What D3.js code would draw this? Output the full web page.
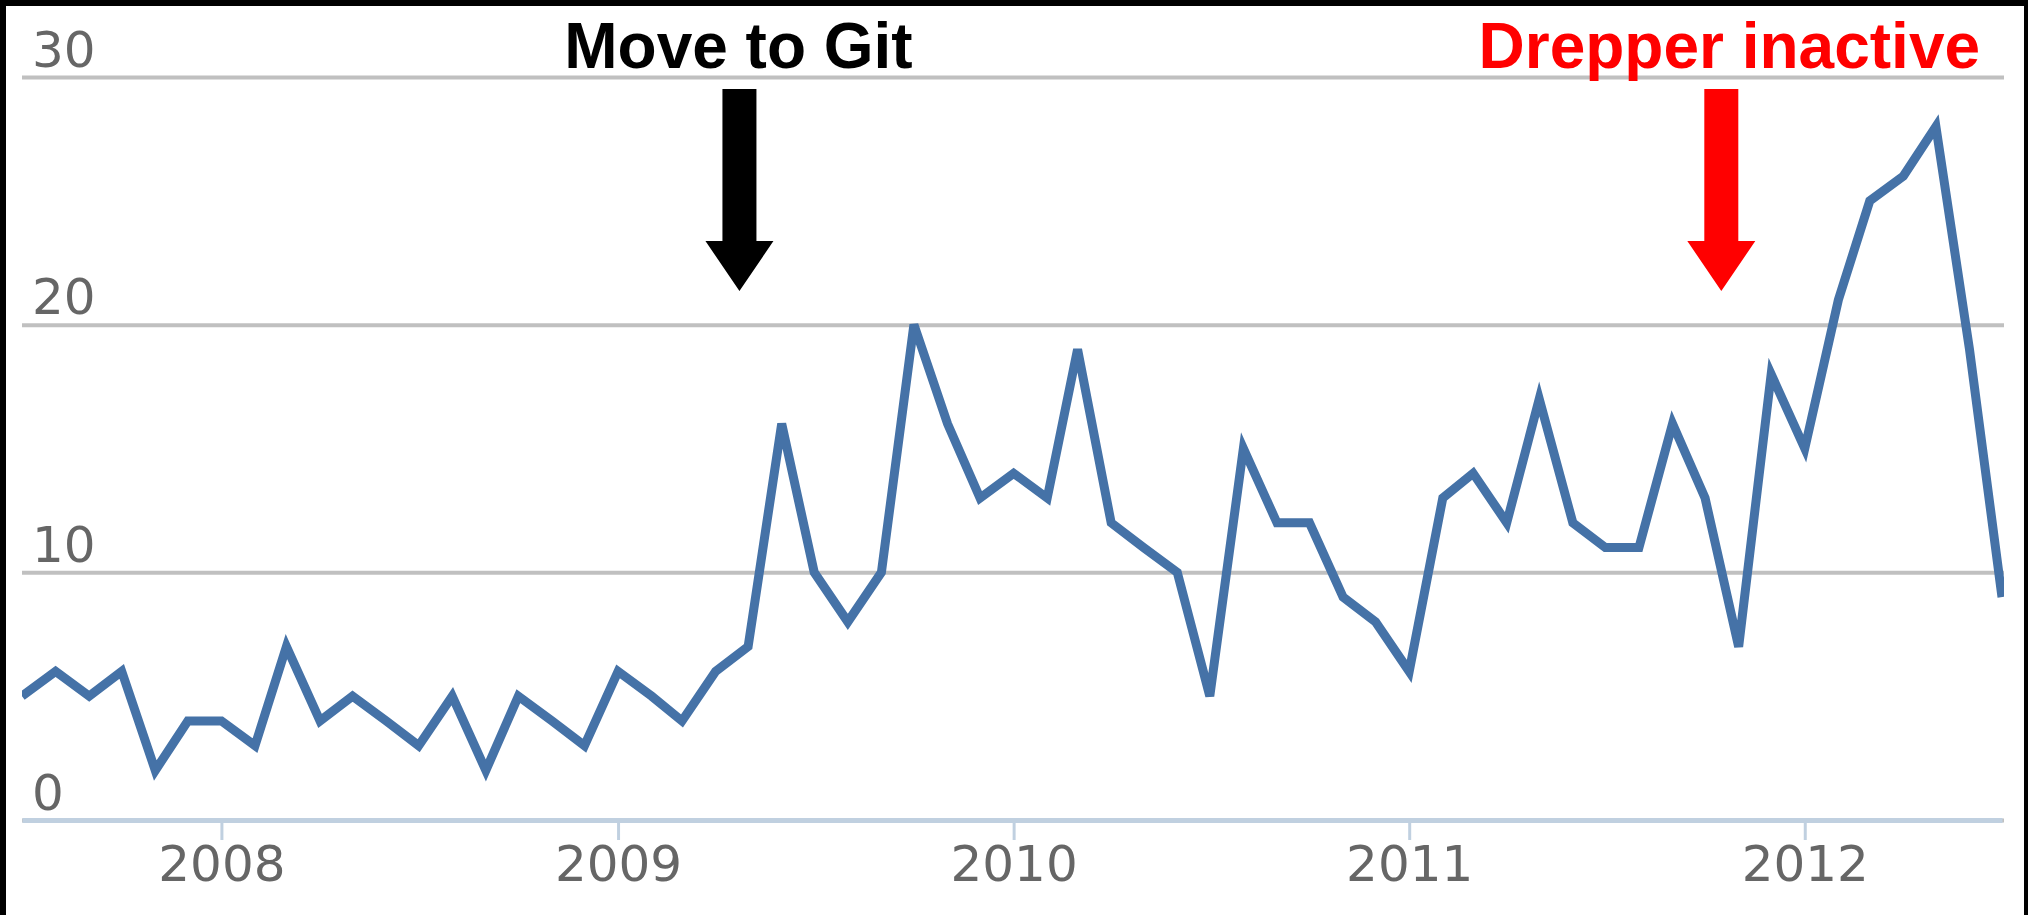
<!DOCTYPE html>
<html>
<head>
<meta charset="utf-8">
<script src="https://cdn.jsdelivr.net/npm/d3@7"></script>
<style>
  body { margin: 0; background: #000; }
  svg { display: block; }
  .grid line { stroke: #c0c0c0; stroke-width: 4; }
  .grid .domain { display: none; }
  .grid text, .xaxis text { fill: #666; font-family: "DejaVu Sans", sans-serif; font-size: 50px; }
  .xaxis .domain { stroke: #c0d0e0; stroke-width: 5; }
  .xaxis line { stroke: #c0d0e0; stroke-width: 3; }
  .line { fill: none; stroke: #4572a7; stroke-width: 9; }
  .note { font-family: "Liberation Sans", Arial, sans-serif; font-weight: bold; font-size: 64px; text-anchor: middle; }
</style>
</head>
<body>
<script>
// monthly commits, Jul 2007 .. Jul 2012
var months = [
  "2007-07","2007-08","2007-09","2007-10","2007-11","2007-12",
  "2008-01","2008-02","2008-03","2008-04","2008-05","2008-06","2008-07","2008-08","2008-09","2008-10","2008-11","2008-12",
  "2009-01","2009-02","2009-03","2009-04","2009-05","2009-06","2009-07","2009-08","2009-09","2009-10","2009-11","2009-12",
  "2010-01","2010-02","2010-03","2010-04","2010-05","2010-06","2010-07","2010-08","2010-09","2010-10","2010-11","2010-12",
  "2011-01","2011-02","2011-03","2011-04","2011-05","2011-06","2011-07","2011-08","2011-09","2011-10","2011-11","2011-12",
  "2012-01","2012-02","2012-03","2012-04","2012-05","2012-06","2012-07"
];
var values = [
  5, 6, 5, 6, 2, 4,
  4, 3, 7, 4, 5, 4, 3, 5, 2, 5, 4, 3,
  6, 5, 4, 6, 7, 16, 10, 8, 10, 20, 16, 13,
  14, 13, 19, 12, 11, 10, 5, 15, 12, 12, 9, 8,
  6, 13, 14, 12, 17, 12, 11, 11, 16, 13, 7, 18,
  15, 21, 25, 26, 28, 19, 9
];
var yTicks = [0, 10, 20, 30];
var xTicks = ["2008", "2009", "2010", "2011", "2012"];

// annotations
var noteLabels = ["Move to Git", "Drepper inactive"];
var noteDates = ["2009-04-23", "2011-10-16"];
var noteColors = ["#000000", "#ff0000"];

var parseMonth = d3.timeParse("%Y-%m"),
    parseDay = d3.timeParse("%Y-%m-%d"),
    parseYear = d3.timeParse("%Y");

var data = months.map(function(m, i) { return {date: parseMonth(m), value: values[i]}; });

var W = 2028, H = 915;
var margin = {top: 77, right: 24, bottom: 95, left: 22},
  width = W - margin.left - margin.right,
  height = H - margin.top - margin.bottom;

var svg = d3.select("body").append("svg")
    .attr("width", W)
    .attr("height", H);

// white card inside the black frame
svg.append("rect")
  .attr("x", 6).attr("y", 6)
  .attr("width", W - 6 - 4).attr("height", H - 6)
  .attr("fill", "#fff");

var g = svg.append("g")
  .attr("transform", "translate(" + margin.left + "," + margin.top + ")");

var x = d3.scaleTime()
  .domain(d3.extent(data, function(d) { return d.date; }))
  .range([0, width - 2]);

var y = d3.scaleLinear()
  .domain([0, 30])
  .range([height, 0]);

// horizontal grid + labels sitting above the lines
var grid = g.append("g")
  .attr("class", "grid")
  .call(d3.axisLeft(y).tickValues(yTicks).tickSize(-width));
grid.selectAll("text")
  .attr("x", 10)
  .attr("dy", -11)
  .style("text-anchor", "start");

// x axis
g.append("g")
  .attr("class", "xaxis")
  .attr("transform", "translate(0," + height + ")")
  .call(d3.axisBottom(x)
    .tickValues(xTicks.map(parseYear))
    .tickFormat(d3.timeFormat("%Y"))
    .tickSize(20)
    .tickSizeOuter(0)
    .tickPadding(5));

// the series
var line = d3.line()
  .x(function(d) { return x(d.date); })
  .y(function(d) { return y(d.value); });

g.append("clipPath").attr("id", "clip")
  .append("rect").attr("width", width).attr("height", height + 10).attr("y", -10);

g.append("path")
  .datum(data)
  .attr("class", "line")
  .attr("clip-path", "url(#clip)")
  .attr("d", line);

// arrows + labels
var notes = svg.selectAll(".noteg")
  .data(noteLabels)
  .enter().append("g")
  .attr("class", "noteg")
  .attr("transform", function(d, i) {
    return "translate(" + (margin.left + x(parseDay(noteDates[i]))) + ",0)"; });

notes.append("path")
  .attr("fill", function(d, i) { return noteColors[i]; })
  .attr("d", "M-17,89 L17,89 L17,241 L34,241 L0,291 L-34,241 L-17,241 Z");

notes.append("text")
  .attr("class", "note")
  .attr("x", function(d, i) { return i == 1 ? 8 : -1; })
  .attr("y", 68)
  .attr("fill", function(d, i) { return noteColors[i]; })
  .text(function(d) { return d; });
</script>
</body>
</html>
